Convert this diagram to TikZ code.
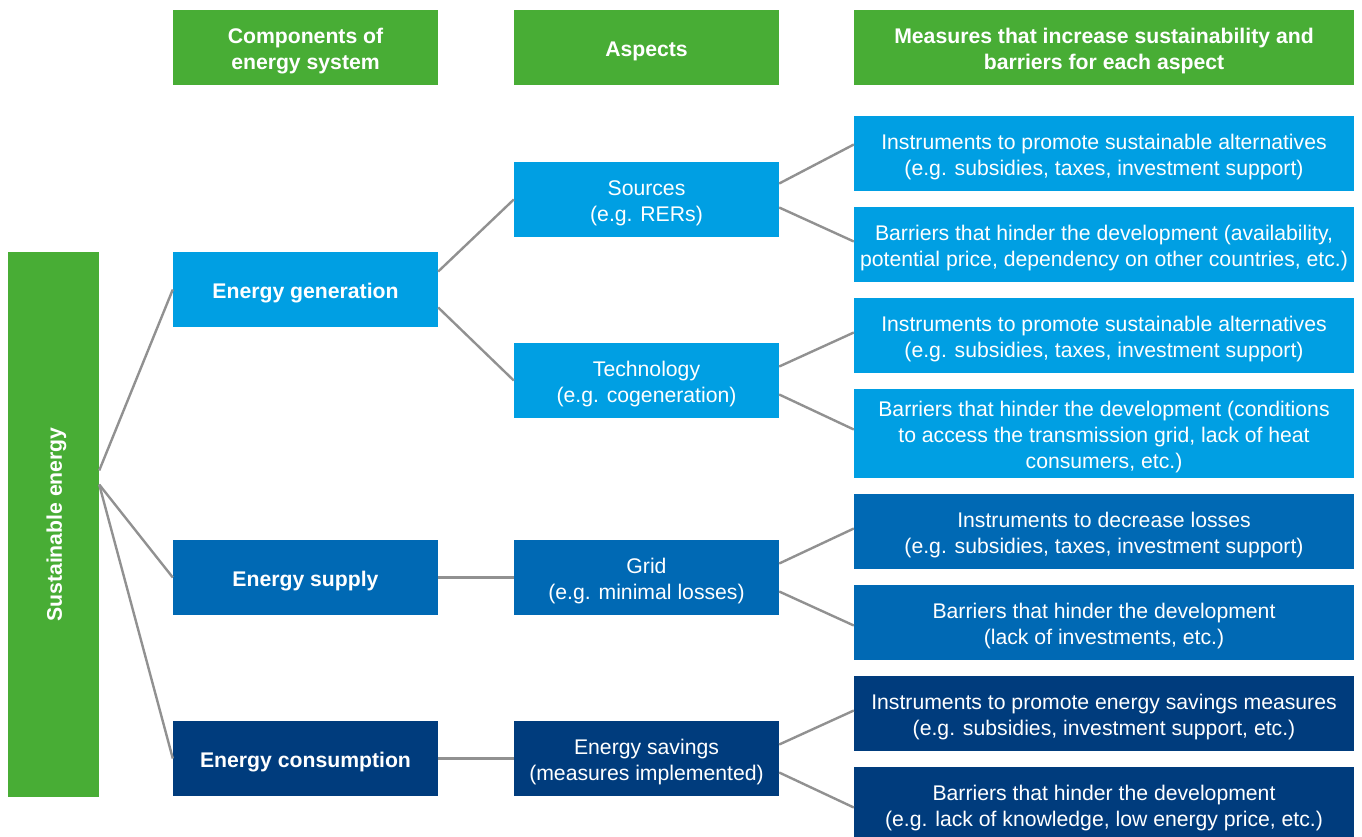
\documentclass[tikz,border=0pt]{standalone}
\usepackage{fontspec}
\setmainfont{Liberation Sans}
\usetikzlibrary{calc}
\definecolor{sgreen}{HTML}{48AD35}
\definecolor{lblue}{HTML}{009FE3}
\definecolor{mblue}{HTML}{0069B4}
\definecolor{dblue}{HTML}{003C7D}
\definecolor{lgray}{HTML}{919191}
\newcommand\myfs{\fontsize{21.2}{26}\selectfont}
\begin{document}
\begin{tikzpicture}[x=1pt,y=-1pt,
  box/.style={rectangle, draw=none, inner sep=0pt},
  lt/.style={align=center, text=white, font=\myfs, inner sep=0pt, yshift=-4pt},
  lb/.style={lt, font=\myfs\bfseries},
  hdr/.style={box, fill=sgreen, minimum height=75pt},
  c1/.style={box, minimum width=265pt, minimum height=75pt},
  c2/.style={box, minimum width=265pt, minimum height=75pt},
  c3/.style={box, minimum width=500pt, minimum height=75pt},
  link/.style={draw=lgray, line width=2.4pt}
]
\useasboundingbox (0,0) rectangle (1362,836);
% headers
\node[hdr, minimum width=265pt, label={[lb]center:{Components of\\energy system}}] (h1) at (305.5,47.5) {};
\node[hdr, minimum width=265pt, label={[lb]center:{Aspects}}] (h2) at (646.5,47.5) {};
\node[hdr, minimum width=500pt, label={[lb]center:{Measures that increase sustainability and\\barriers for each aspect}}] (h3) at (1104,47.5) {};
% root
\node[box, fill=sgreen, minimum width=91pt, minimum height=545pt] (root) at (53.5,524.5) {};
\node[font=\myfs\bfseries, text=white, rotate=90, inner sep=0pt] (roottext) at ($(root.center)+(3,0)$) {Sustainable energy};
% column 1
\node[c1, fill=lblue, label={[lb]center:{Energy generation}}] (gen) at (305.5,289.5) {};
\node[c1, fill=mblue, label={[lb]center:{Energy supply}}] (sup) at (305.5,577.5) {};
\node[c1, fill=dblue, label={[lb]center:{Energy consumption}}] (con) at (305.5,758.5) {};
% column 2
\node[c2, fill=lblue, label={[lt]center:{Sources\\(e.g. RERs)}}] (src) at (646.5,199.5) {};
\node[c2, fill=lblue, label={[lt]center:{Technology\\(e.g. cogeneration)}}] (tec) at (646.5,380.5) {};
\node[c2, fill=mblue, label={[lt]center:{Grid\\(e.g. minimal losses)}}] (grd) at (646.5,577.5) {};
\node[c2, fill=dblue, label={[lt]center:{Energy savings\\(measures implemented)}}] (sav) at (646.5,758.5) {};
% column 3
\node[c3, fill=lblue, label={[lt]center:{Instruments to promote sustainable alternatives\\(e.g. subsidies, taxes, investment support)}}] (i1) at (1104,153.5) {};
\node[c3, fill=lblue, label={[lt]center:{Barriers that hinder the development (availability,\\potential price, dependency on other countries, etc.)}}] (b1) at (1104,244.5) {};
\node[c3, fill=lblue, label={[lt]center:{Instruments to promote sustainable alternatives\\(e.g. subsidies, taxes, investment support)}}] (i2) at (1104,335.5) {};
\node[c3, fill=lblue, minimum height=89pt, label={[lt]center:{Barriers that hinder the development (conditions\\to access the transmission grid, lack of heat\\consumers, etc.)}}] (b2) at (1104,433.5) {};
\node[c3, fill=mblue, label={[lt]center:{Instruments to decrease losses\\(e.g. subsidies, taxes, investment support)}}] (i3) at (1104,531.5) {};
\node[c3, fill=mblue, label={[lt]center:{Barriers that hinder the development\\(lack of investments, etc.)}}] (b3) at (1104,622.5) {};
\node[c3, fill=dblue, label={[lt]center:{Instruments to promote energy savings measures\\(e.g. subsidies, investment support, etc.)}}] (i4) at (1104,713.5) {};
\node[c3, fill=dblue, label={[lt]center:{Barriers that hinder the development\\(e.g. lack of knowledge, low energy price, etc.)}}] (b4) at (1104,804.5) {};
% connectors: root to column 1
\draw[link] ($(root.east)+(0,-54)$) -- (gen.west);
\draw[link] ($(root.east)+(0,-40)$) -- (sup.west);
\draw[link] ($(root.east)+(0,-40)$) -- (con.west);
% column 1 to column 2
\draw[link] ($(gen.east)+(0,-18)$) -- (src.west);
\draw[link] ($(gen.east)+(0,18)$) -- (tec.west);
\draw[link] (sup.east) -- (grd.west);
\draw[link] (con.east) -- (sav.west);
% column 2 to column 3
\draw[link] ($(src.east)+(0,-16)$) -- ($(i1.west)+(0,-9)$);
\draw[link] ($(src.east)+(0,8)$) -- ($(b1.west)+(0,-3)$);
\draw[link] ($(tec.east)+(0,-14)$) -- ($(i2.west)+(0,-3)$);
\draw[link] ($(tec.east)+(0,14)$) -- ($(b2.west)+(0,-4)$);
\draw[link] ($(grd.east)+(0,-14)$) -- ($(i3.west)+(0,-3)$);
\draw[link] ($(grd.east)+(0,14)$) -- ($(b3.west)+(0,3)$);
\draw[link] ($(sav.east)+(0,-14)$) -- ($(i4.west)+(0,-3)$);
\draw[link] ($(sav.east)+(0,14)$) -- ($(b4.west)+(0,3)$);
\end{tikzpicture}
\end{document}
